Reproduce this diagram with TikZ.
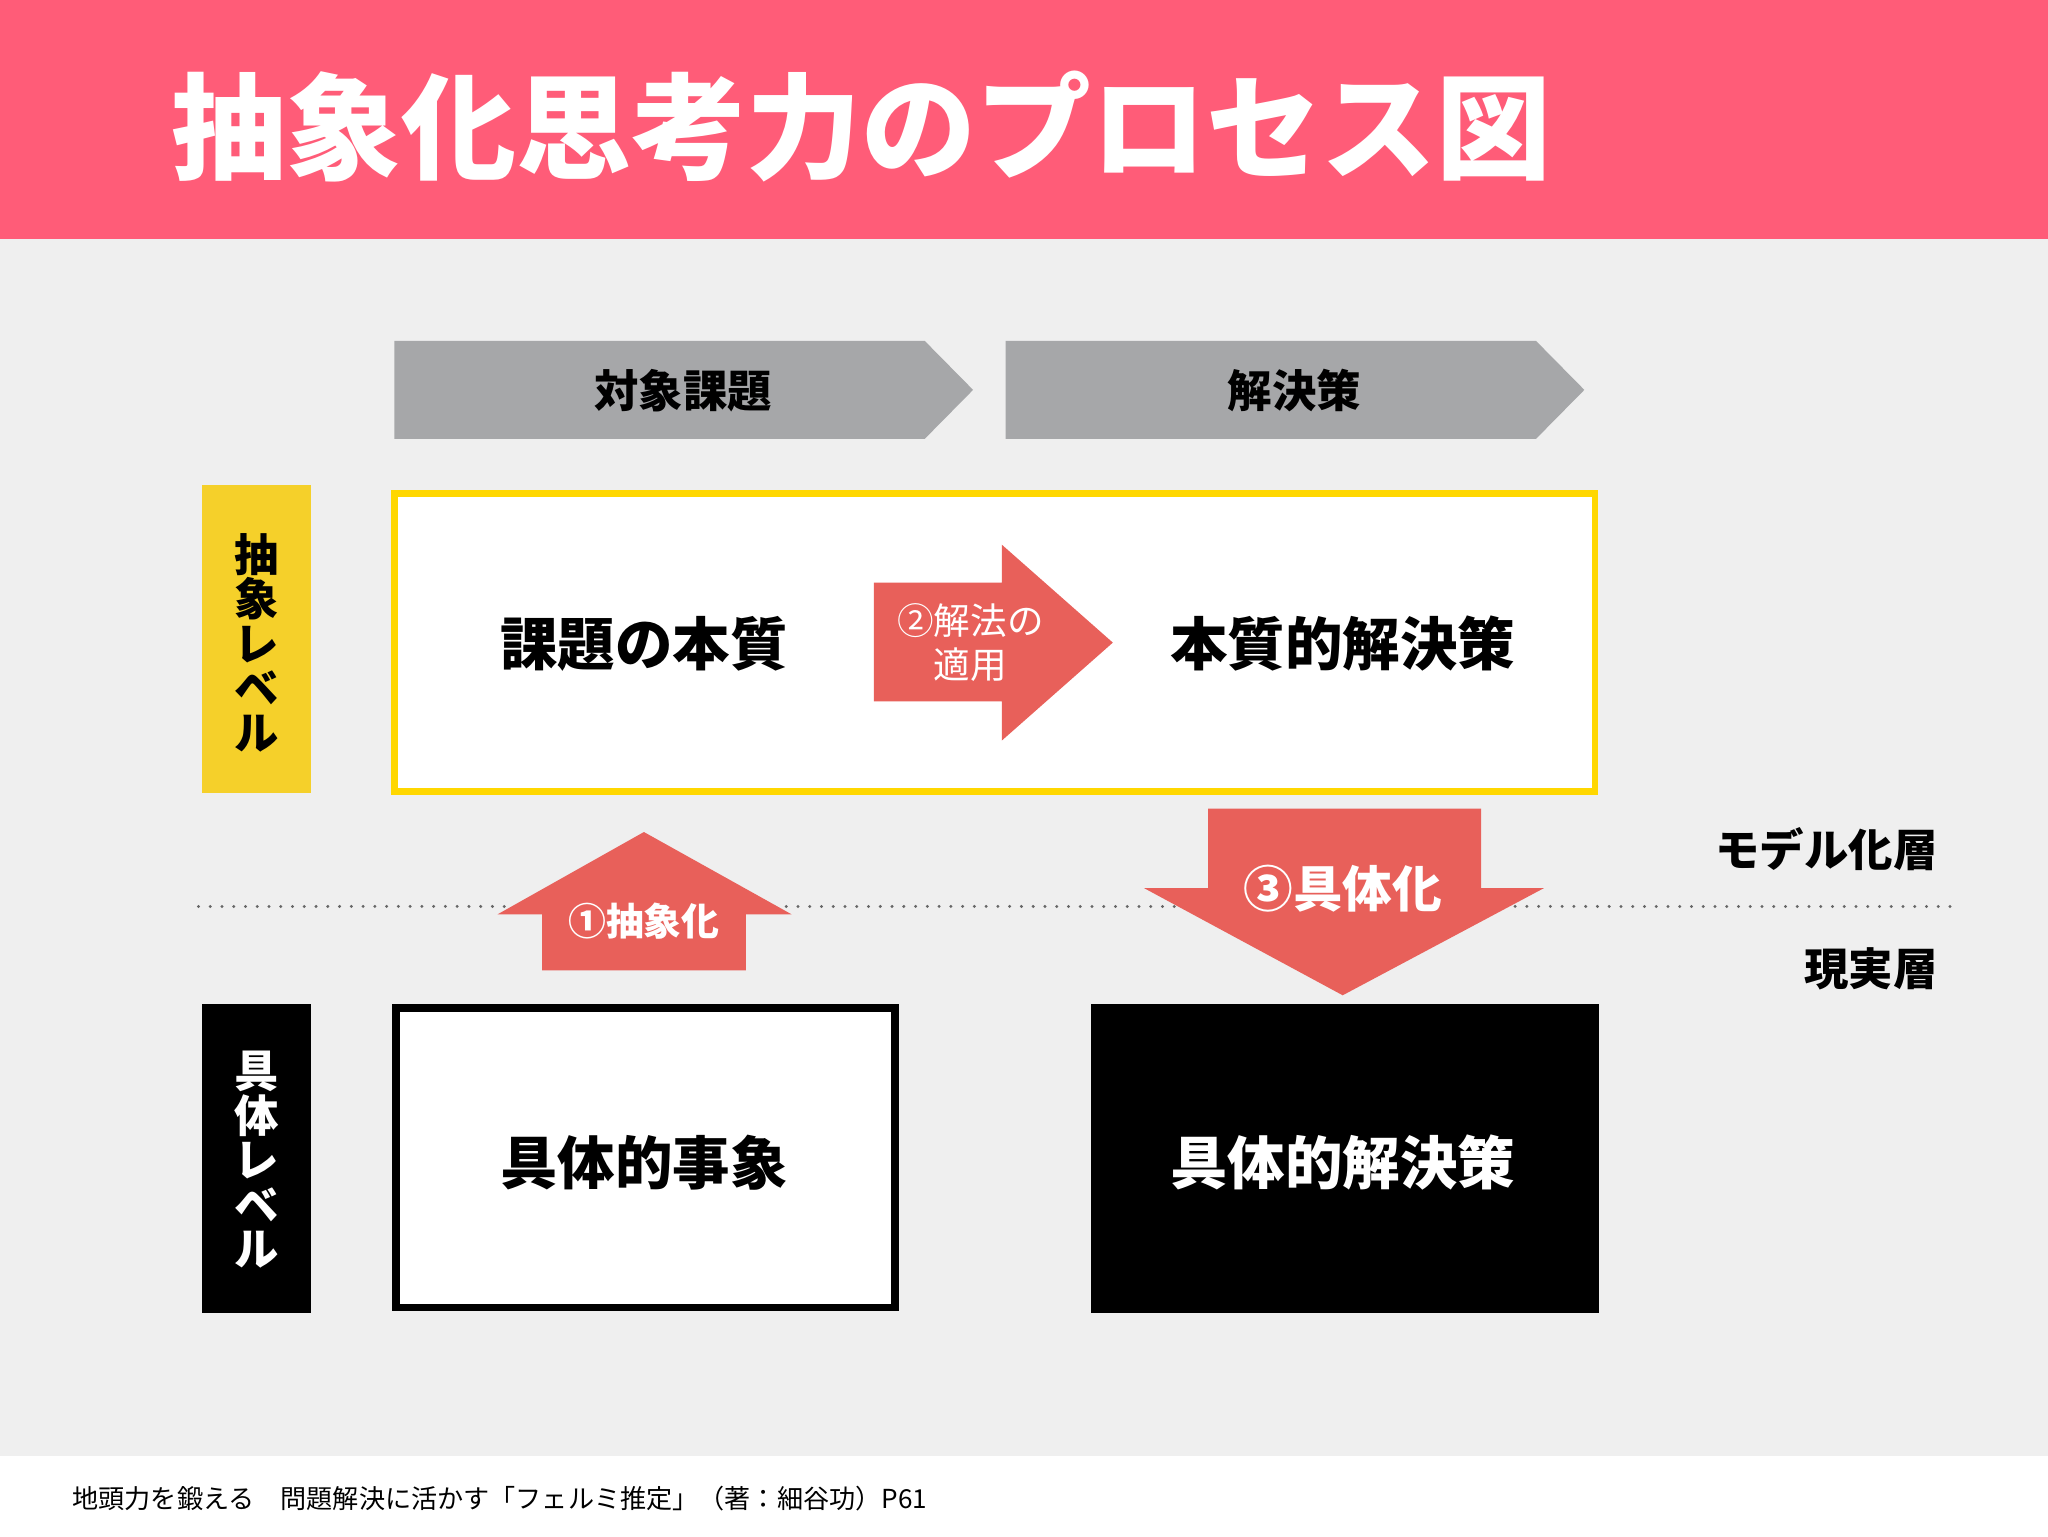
\documentclass[tikz,border=0pt]{standalone}
\usepackage{fontspec}
\setmainfont{Noto Sans CJK JP}
\newfontfamily\jpb{Noto Sans CJK JP}[BoldFont={* Bold}]
\definecolor{pinkhead}{HTML}{FF5C78}
\definecolor{bggray}{HTML}{EFEFEF}
\definecolor{chev}{HTML}{A6A7A9}
\definecolor{redarr}{HTML}{E8605A}
\definecolor{ylab}{HTML}{F5D02A}
\definecolor{yborder}{HTML}{FFD700}
\tikzset{
  big/.style={font=\fontsize{44}{50}\selectfont\bfseries},
  mid/.style={font=\fontsize{34}{40}\selectfont\bfseries},
  vert/.style={font=\fontsize{34}{40}\selectfont\bfseries,align=center},
}
\begin{document}
\begin{tikzpicture}[x=1pt,y=-1pt]
\useasboundingbox (0,0) rectangle (1568,1176);
\fill[white] (0,0) rectangle (1568,1176);
\fill[bggray] (0,183) rectangle (1568,1115);
\fill[pinkhead] (0,0) rectangle (1568,183);
\node[anchor=west,text=white,font=\fontsize{88}{96}\selectfont\bfseries] (title) at (128,97) {抽象化思考力のプロセス図};
% chevrons
\fill[chev] (302,261) -- (708,261) -- (745,298.5) -- (708,336) -- (302,336) -- cycle;
\node[mid] (c1) at (523,299) {対象課題};
\fill[chev] (770,261) -- (1176,261) -- (1213,298.5) -- (1176,336) -- (770,336) -- cycle;
\node[mid] (c2) at (991,299) {解決策};
% level labels
\fill[ylab] (155,371) rectangle (238,607);
\node[vert] (l1) at (196.5,492) {抽\\[-6pt]象\\[-6pt]レ\\[-6pt]ベ\\[-6pt]ル};
\fill[black] (155,769) rectangle (238,1005);
\node[vert,text=white] (l2) at (196.5,888) {具\\[-6pt]体\\[-6pt]レ\\[-6pt]ベ\\[-6pt]ル};
% abstract box
\draw[yborder,line width=5pt,fill=white] (302,378) rectangle (1221,606);
\node[big] (a1) at (493,493) {課題の本質};
\node[big] (a2) at (1028,493) {本質的解決策};
% arrow 2
\fill[redarr] (669,446) -- (767,446) -- (767,417) -- (852,492) -- (767,567) -- (767,537) -- (669,537) -- cycle;
\node[text=white,align=center,font=\fontsize{28}{33}\selectfont] (ar2) at (743,492) {②解法の\\適用};
% dotted line
\draw[gray!80!black,line width=2.5pt,line cap=round,dash pattern=on 0pt off 9pt] (152,694) -- (1495,694);
% arrow 1
\fill[redarr] (493,637) -- (606,700) -- (571,700) -- (571,743) -- (415,743) -- (415,700) -- (381,700) -- cycle;
\node[text=white,font=\fontsize{29}{34}\selectfont\bfseries] (ar1) at (493,705) {①抽象化};
% arrow 3
\fill[redarr] (925,619) -- (1134,619) -- (1134,680) -- (1182,680) -- (1028,762) -- (876,680) -- (925,680) -- cycle;
\node[text=white,font=\fontsize{38}{44}\selectfont\bfseries] (ar3) at (1028,680) {③具体化};
% layer labels
\node[anchor=east,font=\fontsize{34}{40}\selectfont\bfseries] (m1) at (1487,650) {モデル化層};
\node[anchor=east,font=\fontsize{34}{40}\selectfont\bfseries] (m2) at (1487,742) {現実層};
% concrete boxes
\draw[black,line width=6pt,fill=white] (303,772) rectangle (685,1001);
\node[big] (b1) at (493,890) {具体的事象};
\fill[black] (835,769) rectangle (1224,1005);
\node[big,text=white] (b2) at (1028,890) {具体的解決策};
% footer
\node[anchor=west,font=\fontsize{20}{24}\selectfont] (foot) at (52,1147) {地頭力を鍛える\quad 問題解決に活かす「フェルミ推定」（著：細谷功）P61};
\end{tikzpicture}
\end{document}
